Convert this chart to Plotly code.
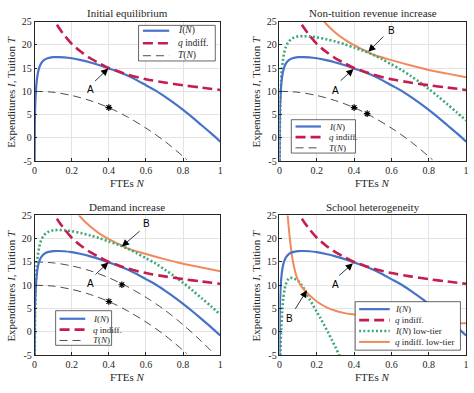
import plotly.graph_objects as go

# ---------------- data ----------------
N_I = [0.0002, 0.001, 0.002, 0.004, 0.007, 0.012, 0.018, 0.025, 0.035, 0.05, 0.07,
       0.1, 0.13, 0.16, 0.2, 0.25, 0.3, 0.35, 0.4, 0.45, 0.5, 0.55, 0.6, 0.65,
       0.7, 0.75, 0.8, 0.85, 0.9, 0.95, 1.0]
I_base = [-6.0, 2.0, 5.0, 7.5, 10.0, 12.4, 14.0, 15.1, 16.0, 16.7, 17.1,
          17.33, 17.35, 17.3, 17.1, 16.7, 16.2, 15.6, 14.9, 14.2, 13.4, 12.4, 11.3, 10.2,
          8.9, 7.5, 6.0, 4.4, 2.7, 1.0, -0.8]

N_Ihigh = [0.0005, 0.003, 0.006, 0.009, 0.012, 0.018, 0.025, 0.035, 0.05, 0.07,
           0.1, 0.13, 0.16, 0.2, 0.25, 0.3, 0.35, 0.4, 0.45, 0.5, 0.55, 0.6, 0.65,
           0.7, 0.75, 0.8, 0.85, 0.9, 0.95, 1.0]
I_high = [-6.0, 4.0, 9.5, 12.5, 14.5, 16.5, 18.2, 19.6, 20.7, 21.4,
          21.8, 21.85, 21.8, 21.6, 21.2, 20.7, 20.1, 19.4, 18.7, 17.9, 16.9, 15.8, 14.7,
          13.4, 12.0, 10.5, 8.9, 7.2, 5.5, 3.7]

N_q = [0.09, 0.11, 0.13, 0.15, 0.2, 0.25, 0.3, 0.35, 0.4, 0.45, 0.5, 0.6, 0.7, 0.8, 0.9, 1.0]
q_base = [27.3, 25.0, 23.7, 22.6, 20.2, 18.5, 17.1, 16.0, 15.0, 14.3, 13.6, 12.6, 11.9, 11.3, 10.8, 10.3]

N_qhigh = [0.2, 0.24, 0.3, 0.35, 0.4, 0.47, 0.5, 0.6, 0.7, 0.8, 0.9, 1.0]
q_high = [27.5, 25.0, 22.6, 21.1, 19.9, 18.5, 17.9, 16.7, 15.6, 14.6, 13.8, 13.0]

N_T = [0.0, 0.1, 0.2, 0.3, 0.4, 0.5, 0.6, 0.7, 0.8, 0.82]
T_base = [10.0, 9.8, 9.1, 8.0, 6.5, 4.5, 2.1, -0.7, -4.0, -4.7]

N_Thigh = [0.0, 0.1, 0.2, 0.3, 0.4, 0.47, 0.5, 0.6, 0.7, 0.8, 0.9, 0.97]
T_high = [15.0, 14.8, 14.15, 13.1, 11.6, 10.3, 9.7, 7.4, 4.7, 1.5, -2.1, -4.9]

N_Ilow = [0.004, 0.007, 0.01, 0.015, 0.02, 0.027, 0.035, 0.045, 0.056, 0.07, 0.08, 0.1,
          0.12, 0.14, 0.16, 0.18, 0.2, 0.22, 0.24, 0.26, 0.28, 0.3, 0.32, 0.34]
I_low = [-6.0, -2.0, 1.0, 4.5, 7.0, 9.0, 10.3, 11.2, 11.6, 11.5, 11.4, 10.9,
         10.0, 8.6, 7.1, 5.7, 4.3, 2.9, 1.4, -0.1, -1.7, -3.3, -5.0, -6.7]

N_qlow = [0.04, 0.044, 0.05, 0.06, 0.07, 0.08, 0.09, 0.1, 0.12, 0.14, 0.17, 0.2, 0.25,
          0.3, 0.35, 0.4, 0.5, 0.6, 0.7, 0.8, 0.9, 1.0]
q_low = [27.5, 25.0, 22.3, 18.5, 15.6, 13.6, 12.1, 11.0, 9.6, 8.7, 7.5, 6.5, 5.3,
         4.5, 4.0, 3.7, 3.1, 2.7, 2.4, 2.1, 1.9, 1.8]

star_N = [0.4, 0.47]
star_T_base = [6.5, 5.2]
star_T_high = [6.5, 10.1]

titles = ["Initial equilibrium", "Non-tuition revenue increase",
          "Demand increase", "School heterogeneity"]
x_ticks = [0, 0.2, 0.4, 0.6, 0.8, 1]
x_tick_labels = ["0", "0.2", "0.4", "0.6", "0.8", "1"]
y_ticks = [-5, 0, 5, 10, 15, 20, 25]
y_tick_labels = ["-5", "0", "5", "10", "15", "20", "25"]

# ---------------- styles ----------------
W, H = 474, 393
SERIF = "'Liberation Serif', 'Times New Roman', 'DejaVu Serif', serif"
SANS = "'Liberation Sans', Arial, sans-serif"
INK = "#262626"
BLUE = "#4672C8"
RED = "#C51E4E"
GREEN = "#3DA877"
ORANGE = "#F08A5C"

S_I = dict(color=BLUE, width=2.2)
S_Q = dict(color=RED, width=2.6, dash="10px,5px")
S_T = dict(color="black", width=0.7, dash="8px,5px")
S_G = dict(color=GREEN, width=2.6, dash="2px,2.2px")
S_O = dict(color=ORANGE, width=2.0)

# subplot frames in pixels: (left, right, top, bottom)
frames = [(32, 220, 16, 160), (280, 469, 16, 160), (32, 220, 216, 360), (280, 469, 216, 360)]

fig = go.Figure()


def px_x(v):
    return v / W


def px_y(v):
    return 1 - v / H


def add_line(k, xs, ys, style):
    sfx = "" if k == 0 else str(k + 1)
    fig.add_trace(go.Scatter(x=xs, y=ys, mode="lines", line=dict(shape="spline", smoothing=0.9, **style),
                             xaxis="x" + sfx, yaxis="y" + sfx, showlegend=False, hoverinfo="skip"))


def add_stars(k, xs, ys):
    sfx = "" if k == 0 else str(k + 1)
    fig.add_trace(go.Scatter(x=xs, y=ys, mode="markers",
                             marker=dict(symbol="asterisk-open", size=5.5, color="black",
                                         line=dict(color="black", width=1.2)),
                             xaxis="x" + sfx, yaxis="y" + sfx, showlegend=False, hoverinfo="skip"))


# panel 1
add_line(0, N_T, T_base, S_T)
add_line(0, N_I, I_base, S_I)
add_line(0, N_q, q_base, S_Q)
add_stars(0, star_N[:1], star_T_base[:1])
# panel 2
add_line(1, N_T, T_base, S_T)
add_line(1, N_qhigh, q_high, S_O)
add_line(1, N_Ihigh, I_high, S_G)
add_line(1, N_I, I_base, S_I)
add_line(1, N_q, q_base, S_Q)
add_stars(1, star_N, star_T_base)
# panel 3
add_line(2, N_T, T_base, S_T)
add_line(2, N_Thigh, T_high, S_T)
add_line(2, N_qhigh, q_high, S_O)
add_line(2, N_Ihigh, I_high, S_G)
add_line(2, N_I, I_base, S_I)
add_line(2, N_q, q_base, S_Q)
add_stars(2, star_N[:1], star_T_base[:1])
add_stars(2, star_N[1:], star_T_high[1:])
# panel 4
add_line(3, N_Ilow, I_low, S_G)
add_line(3, N_qlow, q_low, S_O)
add_line(3, N_I, I_base, S_I)
add_line(3, N_q, q_base, S_Q)

layout = dict(width=W, height=H, margin=dict(l=0, r=0, t=0, b=0),
              paper_bgcolor="white", plot_bgcolor="white",
              font=dict(family=SERIF, size=10, color=INK), showlegend=False)

annotations = []
shapes = []

for k, (l, r, t, b) in enumerate(frames):
    sfx = "" if k == 0 else str(k + 1)
    axcommon = dict(showline=True, mirror=True, linecolor=INK, linewidth=0.6,
                    ticks="inside", ticklen=3, tickcolor=INK, tickwidth=0.6,
                    showgrid=True, gridcolor="#E3E3E3", gridwidth=0.6, zeroline=False,
                    tickfont=dict(family=SERIF, size=10, color=INK))
    layout["xaxis" + sfx] = dict(domain=[px_x(l), px_x(r)], range=[0, 1], anchor="y" + sfx,
                                 tickvals=x_ticks, ticktext=x_tick_labels, **axcommon)
    layout["yaxis" + sfx] = dict(domain=[px_y(b), px_y(t)], range=[-5, 25], anchor="x" + sfx,
                                 tickvals=y_ticks, ticktext=y_tick_labels, **axcommon)
    cx = (l + r) / 2
    annotations.append(dict(text=titles[k], xref="paper", yref="paper", x=px_x(cx),
                            y=px_y(t - 8.7), xanchor="center", yanchor="middle", showarrow=False,
                            font=dict(family=SERIF, size=11, color=INK)))
    annotations.append(dict(text="FTEs <i>N</i>", xref="paper", yref="paper", x=px_x(cx),
                            y=px_y(b + 23), xanchor="center", yanchor="middle", showarrow=False,
                            font=dict(family=SERIF, size=11, color=INK)))
    annotations.append(dict(text="Expenditures <i>I</i>, Tuition <i>T</i>", xref="paper", yref="paper",
                            x=px_x(l - 23.5), y=px_y((t + b) / 2), xanchor="center", yanchor="middle",
                            textangle=-90, showarrow=False, font=dict(family=SERIF, size=11, color=INK)))

# arrows: (panel, head N, head v, tail N, tail v, label, label N, label v)
arrows = [
    (0, 0.397, 14.9, 0.318, 11.9, "A", 0.30, 10.3),
    (1, 0.397, 14.8, 0.32, 12.0, "A", 0.30, 10.2),
    (1, 0.476, 18.5, 0.565, 22.1, "B", 0.60, 23.1),
    (2, 0.397, 14.9, 0.32, 12.0, "A", 0.30, 10.3),
    (2, 0.47, 18.3, 0.574, 21.9, "B", 0.604, 23.2),
    (3, 0.394, 14.7, 0.312, 11.8, "A", 0.30, 10.1),
    (3, 0.147, 8.9, 0.08, 4.6, "B", 0.055, 2.9),
]
for k, hx, hy, tx, ty, lab, lx, ly in arrows:
    sfx = "" if k == 0 else str(k + 1)
    annotations.append(dict(x=hx, y=hy, ax=tx, ay=ty, xref="x" + sfx, yref="y" + sfx,
                            axref="x" + sfx, ayref="y" + sfx, text="", showarrow=True,
                            arrowhead=2, arrowsize=1.8, arrowwidth=0.8, arrowcolor="black"))
    annotations.append(dict(x=lx, y=ly, xref="x" + sfx, yref="y" + sfx, text=lab, showarrow=False,
                            xanchor="center", yanchor="middle",
                            font=dict(family=SANS, size=10, color="black")))

# hand-placed legend boxes: box (l, t, r, b), line x0, x1, text x, row ys, font size, entries
leg_base = [("<i>I</i>(<i>N</i>)", S_I), ("<i>q</i> indiff.", S_Q), ("<i>T</i>(<i>N</i>)", S_T)]
leg_low = [("<i>I</i>(<i>N</i>)", S_I), ("<i>q</i> indiff.", S_Q),
           ("<i>I</i>(<i>N</i>) low-tier", S_G), ("<i>q</i> indiff. low-tier", S_O)]
legends = [
    ((137.3, 20, 215, 56.7), 141.7, 168.3, 175.5, [25.5, 38.5, 51.3], 9.5, leg_base),
    ((292, 117.3, 357, 151.7), 296.3, 322, 328.5, [124.3, 135.3, 146.3], 9, leg_base),
    ((53.3, 314.3, 110, 350), 57.3, 83.3, 89.5, [322.6, 333.8, 345], 9, leg_base),
    ((356.7, 305, 463.3, 355), 360.7, 391.7, 395, [312.7, 324, 335.2, 346.5], 9, leg_low),
]
for (bl, bt, br, bb), lx0, lx1, tx, rows, fs, entries in legends:
    shapes.append(dict(type="rect", xref="paper", yref="paper", x0=px_x(bl), x1=px_x(br),
                       y0=px_y(bb), y1=px_y(bt), line=dict(color=INK, width=0.7), fillcolor="white",
                       layer="above"))
    for (name, st), ry in zip(entries, rows):
        shapes.append(dict(type="line", xref="paper", yref="paper", x0=px_x(lx0), x1=px_x(lx1),
                           y0=px_y(ry), y1=px_y(ry), layer="above",
                           line=dict(color=st["color"], width=st["width"], dash=st.get("dash", "solid"))))
        annotations.append(dict(text=name, xref="paper", yref="paper", x=px_x(tx), y=px_y(ry),
                                xanchor="left", yanchor="middle", showarrow=False,
                                font=dict(family=SERIF, size=fs, color=INK)))

layout["annotations"] = annotations
layout["shapes"] = shapes
fig.update_layout(**layout)
fig.write_html("out.html")
